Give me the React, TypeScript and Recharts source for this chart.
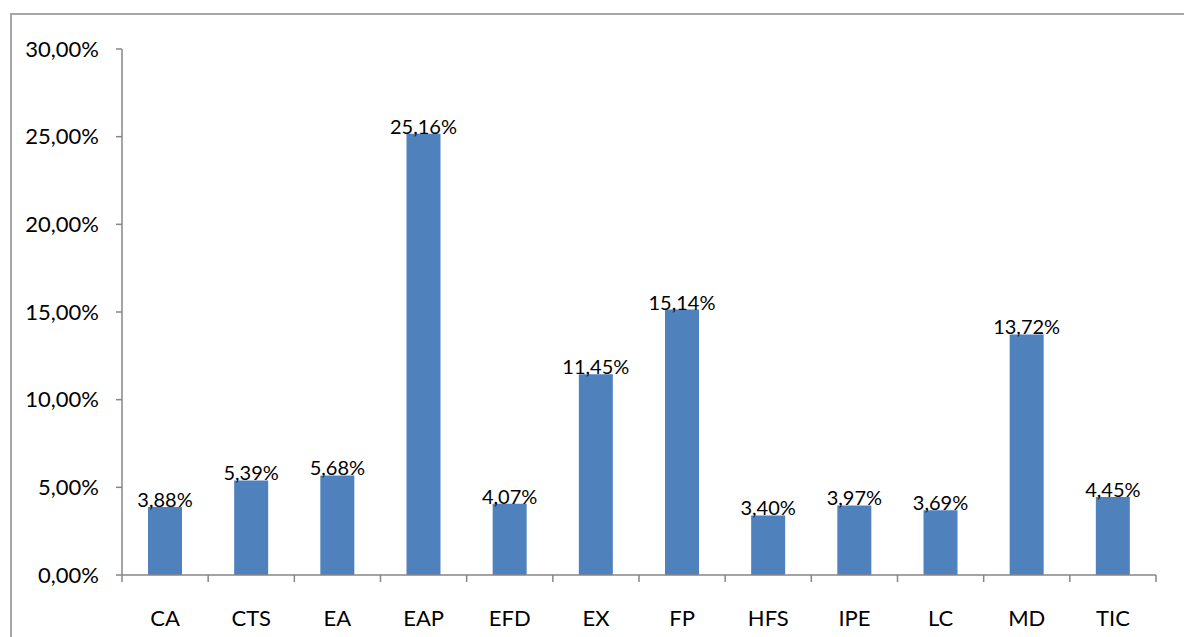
import { BarChart, Bar, XAxis, YAxis, LabelList } from 'recharts';

const categories = ["CA", "CTS", "EA", "EAP", "EFD", "EX", "FP", "HFS", "IPE", "LC", "MD", "TIC"]
const shares = [3.88, 5.39, 5.68, 25.16, 4.07, 11.45, 15.14, 3.40, 3.97, 3.69, 13.72, 4.45]
const yTicks = [0, 5, 10, 15, 20, 25, 30]

const data = categories.map((name, i) => ({ name, value: shares[i] }))

const pct = (v: number) => `${v.toFixed(2).replace('.', ',')}%`

const FONT = 'Lato, "Open Sans", sans-serif'
const AXIS_GRAY = '#868686'

// category label plus tick marks at the category boundaries (Excel style)
function CategoryTick(props: any) {
  const { x, y, payload, index, visibleTicksCount } = props
  const half = payload?.offset ?? 43
  const last = index === visibleTicksCount - 1
  return (
    <g>
      <line x1={x - half} y1={y} x2={x - half} y2={y + 7} stroke={AXIS_GRAY} strokeWidth={1.5} />
      {last && <line x1={x + half} y1={y} x2={x + half} y2={y + 7} stroke={AXIS_GRAY} strokeWidth={1.5} />}
      <text x={x} y={y + 35} dy="0.71em" textAnchor="middle" fill="#000" fontSize={22} fontFamily={FONT}>
        {payload.value}
      </text>
    </g>
  )
}

function App() {
  return (
    <div style={{ position: 'absolute', left: 0, top: 0, width: 1184, height: 637, overflow: 'hidden', background: '#fff' }}>
      <div style={{
        position: 'absolute', left: 10, top: 13, width: 1174, height: 624,
        borderLeft: '2px solid #a6a6a6', borderTop: '2px solid #a6a6a6', boxSizing: 'border-box'
      }} />
      <div style={{ position: 'absolute', left: 0, top: 0 }}>
        <BarChart width={1184} height={637} data={data}
          margin={{ top: 49, right: 28, left: 12, bottom: 22 }}>
          <XAxis dataKey="name" height={40} tickLine={false} tickSize={0} tickMargin={0} interval={0}
            axisLine={{ stroke: AXIS_GRAY, strokeWidth: 1.5 }}
            tick={<CategoryTick />} />
          <YAxis domain={[0, 30]} ticks={yTicks} width={110} tickFormatter={pct}
            tickSize={6} tickMargin={17} interval={0}
            axisLine={{ stroke: AXIS_GRAY, strokeWidth: 1.5 }}
            tickLine={{ stroke: AXIS_GRAY, strokeWidth: 1.5 }}
            tick={{ fill: '#000', fontSize: 22, fontFamily: FONT }} />
          <Bar dataKey="value" fill="#4F81BD" barSize={34} isAnimationActive={false}>
            <LabelList dataKey="value" position="top" offset={0} formatter={(v: any) => pct(Number(v))}
              style={{ fill: '#000', fontSize: 20, fontFamily: FONT }} />
          </Bar>
        </BarChart>
      </div>
    </div>
  )
}

export default App
